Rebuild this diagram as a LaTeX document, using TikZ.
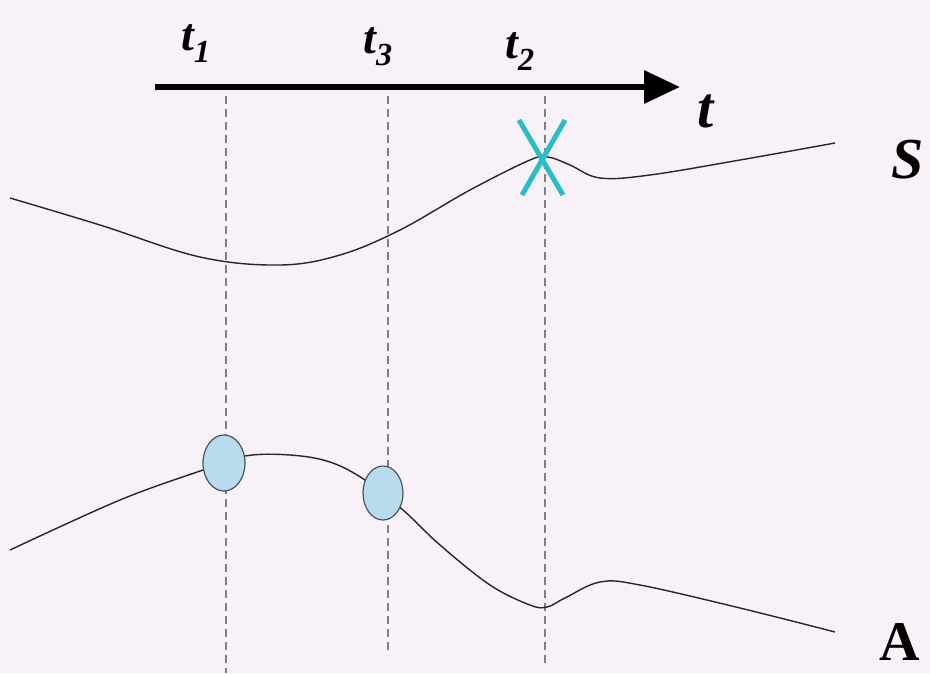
\documentclass[tikz,border=0pt]{standalone}
\usepackage{fontspec}
\setmainfont{Liberation Serif}
\usetikzlibrary{arrows.meta}
\definecolor{bgpink}{RGB}{249,241,248}
\definecolor{crosscyan}{RGB}{38,190,200}
\definecolor{dotblue}{RGB}{186,218,238}
\definecolor{dotedge}{RGB}{70,85,100}
\tikzset{
  lbl/.style={font=\fontsize{46}{48}\selectfont\bfseries\itshape, anchor=base, inner sep=0pt},
  biglbl/.style={font=\fontsize{58}{60}\selectfont\bfseries\itshape, anchor=base, inner sep=0pt},
  guide/.style={gray, line width=1.3pt, dash pattern=on 8pt off 5pt},
  curve/.style={black!85, line width=1.4pt},
  dot/.style={ellipse, draw=dotedge, line width=1.2pt, fill=dotblue, inner sep=0pt},
}
\usetikzlibrary{shapes.geometric}
\begin{document}
\begin{tikzpicture}[x=1pt, y=-1pt]
    \useasboundingbox[fill=bgpink] (0,0) rectangle (930,673);

    % Time axis
    \coordinate (tstart) at (155,87);
    \coordinate (tend) at (680,87);
    \draw[line width=6.5pt, -{Triangle[length=36pt,width=32pt]}] (tstart) -- (tend);
    \node[biglbl] (tlabel) at (706,127) {t};

    % Instants
    \node[lbl] (t1) at (196,50) {t\textsubscript{1}};
    \node[lbl] (t3) at (378,53) {t\textsubscript{3}};
    \node[lbl] (t2) at (520,58) {t\textsubscript{2}};
    \coordinate (g1top) at (226,96);  \coordinate (g1bot) at (226,673);
    \coordinate (g3top) at (388,96);  \coordinate (g3bot) at (388,655);
    \coordinate (g2top) at (545,96);  \coordinate (g2bot) at (545,665);
    \draw[guide] (g1top) -- (g1bot);
    \draw[guide] (g3top) -- (g3bot);
    \draw[guide] (g2top) -- (g2bot);

    % S trajectory
    \draw[curve] plot [smooth, tension=0.6] coordinates {(10,198) (100,225) (200,257) (280,265) (340,255) (400,230) (470,190) (530,160) (548,157) (570,165) (600,178) (650,175) (740,160) (835,143)};
    \node[biglbl] (S) at (908,178) {S};

    % A trajectory
    \draw[curve] plot [smooth, tension=0.6] coordinates {(10,550) (120,500) (203,470) (245,456) (290,455) (330,462) (365,480) (403,510) (440,545) (490,585) (530,605) (547,607) (565,598) (600,582) (640,585) (740,608) (835,632)};
    \node[biglbl, font=\fontsize{56}{58}\selectfont\bfseries] (A) at (900,660) {A};

    % Matches
    \node[dot, minimum width=42pt, minimum height=56pt] (m1) at (224,463) {};
    \node[dot, minimum width=40pt, minimum height=54pt] (m3) at (383,493) {};

    % Miss
    \draw[crosscyan, line width=5pt] (519,120) -- (563,195) (565,120) -- (522,195);
\end{tikzpicture}
\end{document}
